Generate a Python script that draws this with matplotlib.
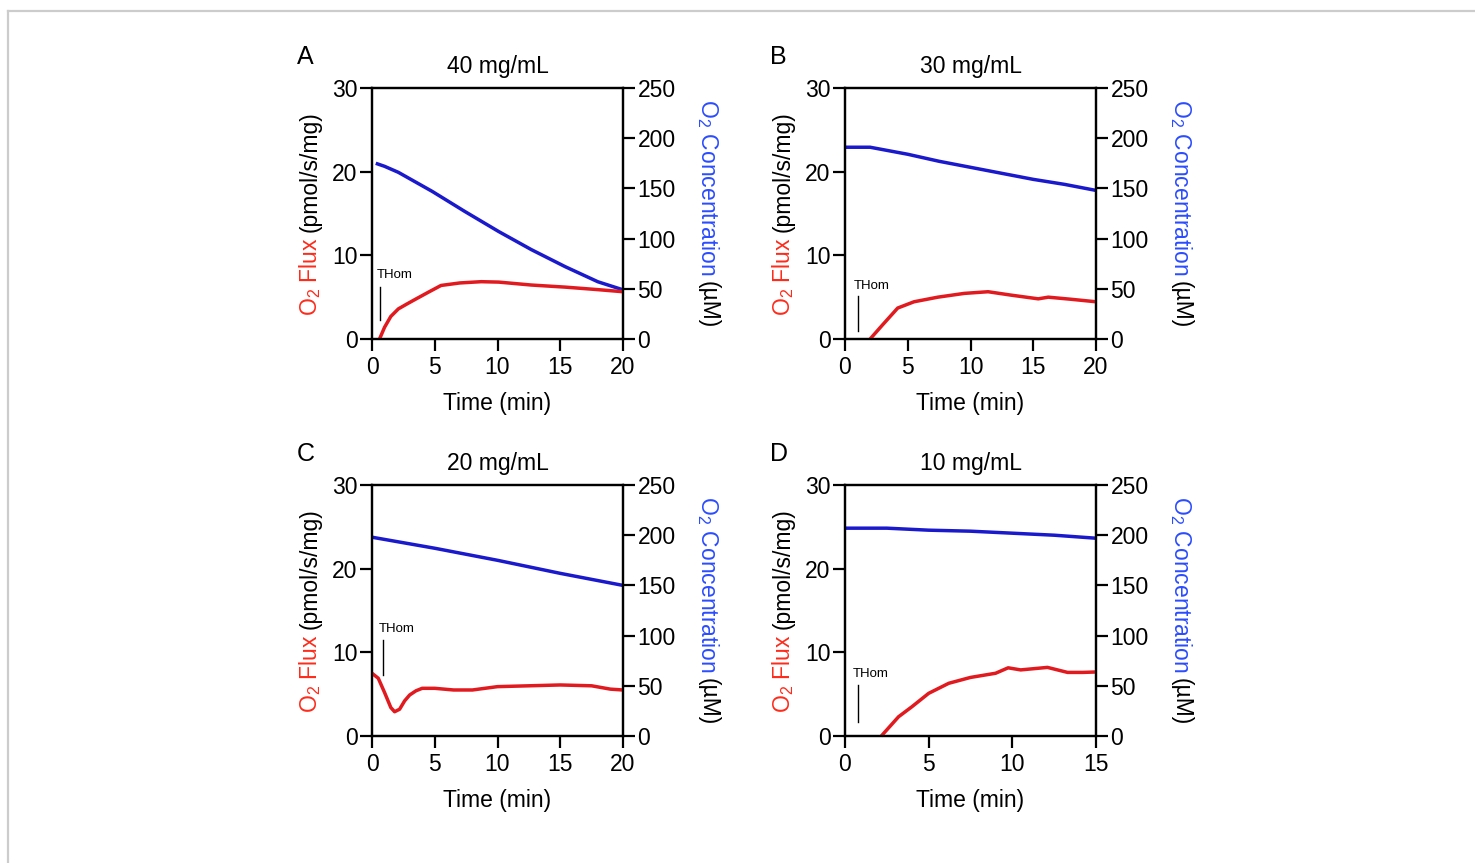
import matplotlib
matplotlib.use("Agg")
import matplotlib.pyplot as plt
from matplotlib.lines import Line2D
from matplotlib.transforms import IdentityTransform

plt.rcParams['font.family'] = ['Liberation Sans', 'DejaVu Sans']
plt.rcParams['mathtext.fontset'] = 'custom'
plt.rcParams['mathtext.rm'] = 'Liberation Sans'
plt.rcParams['mathtext.it'] = 'Liberation Sans'

# panel A: 40 mg/mL
a_flux_t = [0.6, 1.0, 1.5, 2.1, 2.8, 3.4, 4.5, 5.5, 7.0, 8.7, 10.1, 12.7, 15.4, 18.0, 20.0]
a_flux = [0.0, 1.4, 2.7, 3.6, 4.2, 4.7, 5.6, 6.4, 6.7, 6.85, 6.8, 6.45, 6.2, 5.9, 5.65]
a_conc_t = [0.3, 1.0, 2.1, 4.8, 7.4, 10.1, 12.7, 15.4, 18.0, 20.0]
a_conc = [175, 172, 166, 147, 127, 107, 89, 72, 57, 49]
a_thom = [0.64, 2.3, 6.25, 7.6]   # x, y0, y1, label y

# panel B: 30 mg/mL
b_flux_t = [2.0, 3.0, 4.2, 5.5, 7.4, 9.5, 11.4, 13.2, 15.4, 16.2, 18.0, 20.0]
b_flux = [0.0, 1.7, 3.7, 4.45, 5.0, 5.45, 5.65, 5.25, 4.8, 5.0, 4.75, 4.45]
b_conc_t = [0.0, 2.0, 5.0, 7.5, 10.0, 12.5, 15.0, 17.5, 20.0]
b_conc = [191, 191, 184, 177, 171, 165, 159, 154, 148]
b_thom = [1.0, 0.9, 5.1, 6.3]

# panel C: 20 mg/mL
c_flux_t = [0.0, 0.5, 1.0, 1.5, 1.8, 2.2, 2.6, 3.0, 3.5, 4.0, 5.0, 6.5, 8.0, 10.0, 12.5, 15.0, 17.5, 19.0, 20.0]
c_flux = [7.5, 6.9, 5.2, 3.4, 2.9, 3.2, 4.2, 4.9, 5.4, 5.7, 5.7, 5.5, 5.5, 5.9, 6.0, 6.1, 6.0, 5.6, 5.5]
c_conc_t = [0.0, 5.0, 10.0, 15.0, 20.0]
c_conc = [198, 187, 175, 162, 150]
c_thom = [0.85, 7.3, 11.5, 12.8]

# panel D: 10 mg/mL
d_flux_t = [2.17, 3.2, 4.0, 5.0, 6.2, 7.5, 9.0, 9.75, 10.5, 12.1, 13.3, 14.2, 15.0]
d_flux = [0.0, 2.3, 3.5, 5.1, 6.3, 7.0, 7.5, 8.15, 7.9, 8.2, 7.6, 7.6, 7.65]
d_conc_t = [0.0, 2.5, 5.0, 7.5, 10.0, 12.5, 15.0]
d_conc = [207, 207, 205, 204, 202, 200, 197]
d_thom = [0.76, 1.7, 6.1, 7.4]

titles = ['40 mg/mL', '30 mg/mL', '20 mg/mL', '10 mg/mL']
letters = ['A', 'B', 'C', 'D']
x_max = [20, 20, 20, 15]
flux_ticks = [0, 10, 20, 30]
conc_ticks = [0, 50, 100, 150, 200, 250]

RED_LINE = '#E01A1E'
BLUE_LINE = '#1A1ACC'
RED_TXT = '#FF2A1A'
BLUE_TXT = '#2A4CFF'

W, H = 1475, 863
fig = plt.figure(figsize=(W / 100, H / 100), dpi=100)

# grey frame at top/left
fig.add_artist(Line2D([8 / W, 8 / W], [0, 1 - 11 / H], transform=fig.transFigure, color='#cccccc', lw=1.6))
fig.add_artist(Line2D([8 / W, 1], [1 - 11 / H, 1 - 11 / H], transform=fig.transFigure, color='#cccccc', lw=1.6))

# axes boxes in pixels: left, top
boxes = [(372, 88), (845, 88), (372, 485), (845, 485)]
size = 251

panels = [
    (a_flux_t, a_flux, a_conc_t, a_conc, a_thom),
    (b_flux_t, b_flux, b_conc_t, b_conc, b_thom),
    (c_flux_t, c_flux, c_conc_t, c_conc, c_thom),
    (d_flux_t, d_flux, d_conc_t, d_conc, d_thom),
]

FS = 16.5
label_jobs = []

for i, (ft, fv, ct, cv, th) in enumerate(panels):
    left, top = boxes[i]
    ax = fig.add_axes([left / W, 1 - (top + size) / H, size / W, size / H])
    ax2 = ax.twinx()
    ax.set_zorder(2)
    ax.patch.set_visible(False)

    ax2.plot(ct, cv, color=BLUE_LINE, lw=2.5, solid_capstyle='butt', clip_on=False)
    ax.plot(ft, fv, color=RED_LINE, lw=2.5, solid_capstyle='butt', clip_on=False)

    ax.set_xlim(0, x_max[i])
    ax.set_xticks(range(0, x_max[i] + 1, 5))
    ax.set_ylim(0, 30)
    ax.set_yticks(flux_ticks)
    ax2.set_ylim(0, 250)
    ax2.set_yticks(conc_ticks)

    for a in (ax, ax2):
        for s in a.spines.values():
            s.set_linewidth(1.6)
        a.tick_params(direction='out', length=8.5, width=1.6, labelsize=FS, pad=2)
    ax.tick_params(axis='x', pad=4)

    # THom marker
    ax.plot([th[0], th[0]], [th[1], th[2]], color='black', lw=1.0)
    ax.text(th[0] - 0.3, th[3], 'THom', fontsize=9.5, ha='left', va='center')

    ax.set_xlabel('Time (min)', fontsize=FS, labelpad=9)
    ax.set_title(titles[i], fontsize=FS, pad=11)
    fig.text((left - 75) / W, 1 - (top - 31) / H, letters[i], fontsize=18, ha='left', va='center')

    cy = H - (top + size / 2)
    label_jobs.append((left - 62, cy, 90,
                       [('O$_2$ Flux', RED_TXT), ('(pmol/s/mg)', 'black')]))
    label_jobs.append((left + size + 85, cy, 270,
                       [('O$_2$ Concentration', BLUE_TXT), ('(µM)', 'black')]))

# multi-coloured rotated axis labels, laid out by measuring each part
fig.canvas.draw()
renderer = fig.canvas.get_renderer()
gap = 5
for x, cy, rot, parts in label_jobs:
    texts = []
    for s, col in parts:
        t = fig.text(0, 0, s, color=col, fontsize=FS, rotation=rot,
                     rotation_mode='anchor', ha='left', va='center',
                     transform=IdentityTransform())
        texts.append(t)
    lens = [t.get_window_extent(renderer).height for t in texts]
    total = sum(lens) + gap * (len(lens) - 1)
    if rot == 90:
        pos = cy - total / 2
        for t, L in zip(texts, lens):
            t.set_position((x, pos))
            pos += L + gap
    else:
        pos = cy + total / 2
        for t, L in zip(texts, lens):
            t.set_position((x, pos))
            pos -= L + gap

fig.savefig('out.png', dpi=100)
